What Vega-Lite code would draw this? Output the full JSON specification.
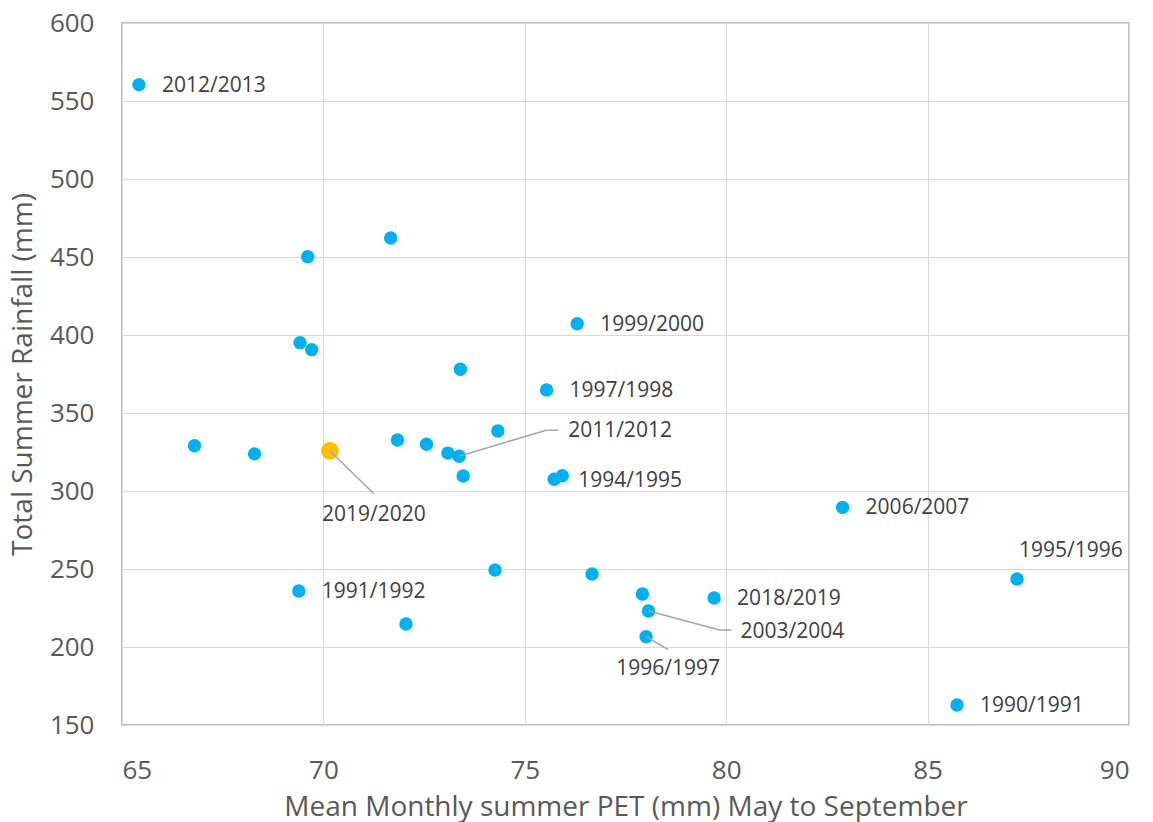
{
  "$schema": "https://vega.github.io/schema/vega-lite/v6.json",
  "width": 1007,
  "height": 702,
  "autosize": {"type": "none"},
  "padding": {"left": 122, "top": 23, "right": 24, "bottom": 97},
  "background": "#ffffff",
  "config": {
    "view": {"stroke": "#bfbfbf", "strokeWidth": 2},
    "font": "Open Sans",
    "axis": {
      "domain": false,
      "ticks": false,
      "grid": true,
      "gridColor": "#d9d9d9",
      "gridWidth": 1,
      "labelFont": "Open Sans",
      "labelFontSize": 26,
      "labelColor": "#595959",
      "titleFont": "Open Sans",
      "titleFontSize": 28,
      "titleFontWeight": "normal",
      "titleColor": "#595959"
    }
  },
  "data": {
    "values": [
      {"pet": 65.42, "rain": 560.5, "season": "2012/2013"},
      {"pet": 69.61, "rain": 450.2},
      {"pet": 71.67, "rain": 462.2},
      {"pet": 69.42, "rain": 395.1},
      {"pet": 69.71, "rain": 390.6},
      {"pet": 73.40, "rain": 378.0},
      {"pet": 76.30, "rain": 407.2, "season": "1999/2000"},
      {"pet": 75.54, "rain": 364.8, "season": "1997/1998"},
      {"pet": 66.80, "rain": 329.0},
      {"pet": 68.29, "rain": 323.8},
      {"pet": 71.84, "rain": 332.7},
      {"pet": 72.56, "rain": 330.0},
      {"pet": 73.09, "rain": 324.3},
      {"pet": 73.37, "rain": 322.3, "season": "2011/2012"},
      {"pet": 73.47, "rain": 309.6},
      {"pet": 74.33, "rain": 338.5},
      {"pet": 75.73, "rain": 307.5},
      {"pet": 75.93, "rain": 309.8, "season": "1994/1995"},
      {"pet": 74.26, "rain": 249.4},
      {"pet": 76.67, "rain": 246.8},
      {"pet": 69.39, "rain": 235.9, "season": "1991/1992"},
      {"pet": 72.05, "rain": 214.7},
      {"pet": 77.92, "rain": 234.0},
      {"pet": 79.70, "rain": 231.4, "season": "2018/2019"},
      {"pet": 78.07, "rain": 223.1, "season": "2003/2004"},
      {"pet": 78.01, "rain": 206.6, "season": "1996/1997"},
      {"pet": 82.89, "rain": 289.5, "season": "2006/2007"},
      {"pet": 87.22, "rain": 243.6, "season": "1995/1996"},
      {"pet": 85.73, "rain": 162.8, "season": "1990/1991"},
      {"pet": 70.16, "rain": 325.8, "season": "2019/2020"}
    ]
  },
  "encoding": {
    "x": {
      "field": "pet",
      "type": "quantitative",
      "scale": {"domain": [65, 90], "nice": false, "zero": false},
      "axis": {
        "title": "Mean Monthly summer PET (mm) May to September",
        "values": [65, 70, 75, 80, 85, 90],
        "labelPadding": 32,
        "titlePadding": 10
      }
    },
    "y": {
      "field": "rain",
      "type": "quantitative",
      "scale": {"domain": [150, 600], "nice": false, "zero": false},
      "axis": {
        "title": "Total Summer Rainfall (mm)",
        "values": [150, 200, 250, 300, 350, 400, 450, 500, 550, 600],
        "labelPadding": 28,
        "titlePadding": 12
      }
    }
  },
  "layer": [
    {
      "mark": {"type": "circle", "opacity": 1},
      "encoding": {
        "color": {
          "condition": {"test": "datum.season === '2019/2020'", "value": "#ffc000"},
          "value": "#00b0f0"
        },
        "size": {
          "condition": {"test": "datum.season === '2019/2020'", "value": 320},
          "value": 180
        }
      }
    },
    {
      "transform": [{"filter": {"field": "season", "equal": "2011/2012"}}],
      "mark": {"type": "rule", "color": "#a6a6a6", "strokeWidth": 1.5, "x2Offset": 87, "y2Offset": -26},
      "encoding": {"x2": {"field": "pet"}, "y2": {"field": "rain"}}
    },
    {
      "transform": [{"filter": {"field": "season", "equal": "2011/2012"}}],
      "mark": {"type": "rule", "color": "#a6a6a6", "strokeWidth": 1.5, "xOffset": 87, "x2Offset": 99, "yOffset": -26, "y2Offset": -26},
      "encoding": {"x2": {"field": "pet"}, "y2": {"field": "rain"}}
    },
    {
      "transform": [{"filter": {"field": "season", "equal": "2019/2020"}}],
      "mark": {"type": "rule", "color": "#a6a6a6", "strokeWidth": 1.5, "x2Offset": 44, "y2Offset": 43},
      "encoding": {"x2": {"field": "pet"}, "y2": {"field": "rain"}}
    },
    {
      "transform": [{"filter": {"field": "season", "equal": "2003/2004"}}],
      "mark": {"type": "rule", "color": "#a6a6a6", "strokeWidth": 1.5, "x2Offset": 71, "y2Offset": 19},
      "encoding": {"x2": {"field": "pet"}, "y2": {"field": "rain"}}
    },
    {
      "transform": [{"filter": {"field": "season", "equal": "2003/2004"}}],
      "mark": {"type": "rule", "color": "#a6a6a6", "strokeWidth": 1.5, "xOffset": 71, "x2Offset": 83, "yOffset": 19, "y2Offset": 19},
      "encoding": {"x2": {"field": "pet"}, "y2": {"field": "rain"}}
    },
    {
      "transform": [{"filter": {"field": "season", "equal": "1996/1997"}}],
      "mark": {"type": "rule", "color": "#a6a6a6", "strokeWidth": 1.5, "x2Offset": 22, "y2Offset": 13},
      "encoding": {"x2": {"field": "pet"}, "y2": {"field": "rain"}}
    },
    {
      "transform": [{"filter": {"field": "season", "oneOf": ["2012/2013", "1999/2000", "1997/1998", "2006/2007", "1991/1992", "2018/2019", "1990/1991"]}}],
      "mark": {"type": "text", "align": "left", "baseline": "middle", "dx": 23, "dy": 1, "font": "Open Sans", "fontSize": 21, "color": "#404040"},
      "encoding": {"text": {"field": "season"}}
    },
    {
      "transform": [{"filter": {"field": "season", "equal": "1994/1995"}}],
      "mark": {"type": "text", "align": "left", "baseline": "middle", "dx": 16, "dy": 5, "font": "Open Sans", "fontSize": 21, "color": "#404040"},
      "encoding": {"text": {"field": "season"}}
    },
    {
      "transform": [{"filter": {"field": "season", "equal": "1995/1996"}}],
      "mark": {"type": "text", "align": "left", "baseline": "middle", "dx": 2, "dy": -28, "font": "Open Sans", "fontSize": 21, "color": "#404040"},
      "encoding": {"text": {"field": "season"}}
    },
    {
      "transform": [{"filter": {"field": "season", "equal": "2011/2012"}}],
      "mark": {"type": "text", "align": "left", "baseline": "middle", "dx": 109, "dy": -25, "font": "Open Sans", "fontSize": 21, "color": "#404040"},
      "encoding": {"text": {"field": "season"}}
    },
    {
      "transform": [{"filter": {"field": "season", "equal": "2019/2020"}}],
      "mark": {"type": "text", "align": "center", "baseline": "middle", "dx": 44, "dy": 64, "font": "Open Sans", "fontSize": 21, "color": "#404040"},
      "encoding": {"text": {"field": "season"}}
    },
    {
      "transform": [{"filter": {"field": "season", "equal": "2003/2004"}}],
      "mark": {"type": "text", "align": "left", "baseline": "middle", "dx": 92, "dy": 21, "font": "Open Sans", "fontSize": 21, "color": "#404040"},
      "encoding": {"text": {"field": "season"}}
    },
    {
      "transform": [{"filter": {"field": "season", "equal": "1996/1997"}}],
      "mark": {"type": "text", "align": "center", "baseline": "middle", "dx": 22, "dy": 32, "font": "Open Sans", "fontSize": 21, "color": "#404040"},
      "encoding": {"text": {"field": "season"}}
    }
  ]
}
